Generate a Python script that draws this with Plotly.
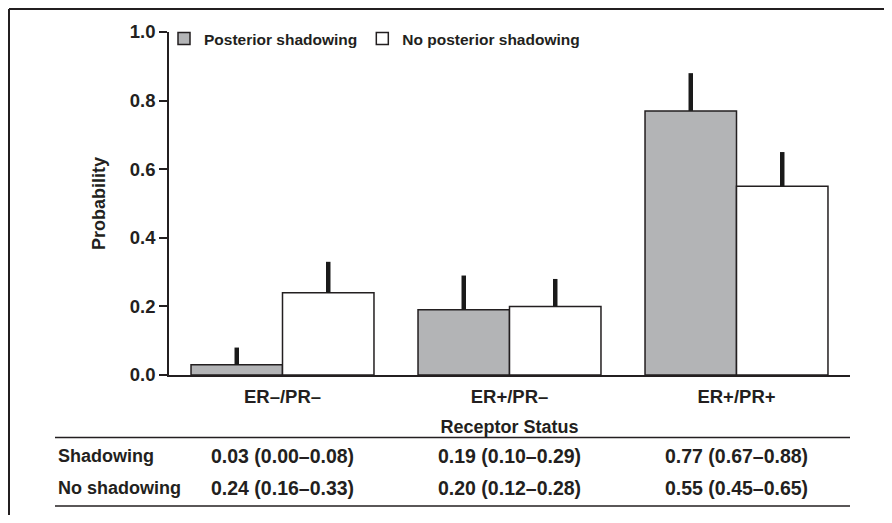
import plotly.graph_objects as go

# ---- data ----
categories = ["ER–/PR–", "ER+/PR–", "ER+/PR+"]
series_names = ["Posterior shadowing", "No posterior shadowing"]
shadow_p = [0.03, 0.19, 0.77]
shadow_lo = [0.00, 0.10, 0.67]
shadow_hi = [0.08, 0.29, 0.88]
noshadow_p = [0.24, 0.20, 0.55]
noshadow_lo = [0.16, 0.12, 0.45]
noshadow_hi = [0.33, 0.28, 0.65]
y_tickvals = [0.0, 0.2, 0.4, 0.6, 0.8, 1.0]
y_ticktext = ["0.0", "0.2", "0.4", "0.6", "0.8", "1.0"]
row_labels = ["Shadowing", "No shadowing"]

# ---- style / geometry (page pixels; the html body adds an 8px margin) ----
OFF = 8
W, H = 876, 507
PL, PR_, PT, PB = 169, 850, 32, 375  # plot area in page pixels
ML, MT = PL - OFF, PT - OFF
MR = W - (PR_ - OFF)
MB = H - (PB - OFF)
PW = PR_ - PL
PH = PB - PT
INK = "#231f20"
GRAY = "#b3b4b6"
FONT = "Liberation Sans, Arial, Helvetica, sans-serif"


def px2x(px):
    return (px - PL) / PW


def py2y(py):
    return (PB - py) / PH


def bold(size):
    return dict(size=size, family=FONT, color=INK, weight="bold")


fig = go.Figure()

for name, vals, hi, fill in [
    (series_names[0], shadow_p, shadow_hi, GRAY),
    (series_names[1], noshadow_p, noshadow_hi, "#ffffff"),
]:
    fig.add_trace(go.Bar(
        x=categories, y=vals, name=name,
        marker=dict(color=fill, line=dict(color=INK, width=1.5)),
        error_y=dict(type="data", symmetric=False,
                     array=[h - v for h, v in zip(hi, vals)],
                     arrayminus=[0] * len(vals),
                     color="#1a1a1a", thickness=4.5, width=0),
    ))

annotations = []
rows = [(shadow_p, shadow_lo, shadow_hi), (noshadow_p, noshadow_lo, noshadow_hi)]
row_py = [456, 488]
for (vals, lo, hi), lab, py in zip(rows, row_labels, row_py):
    annotations.append(dict(text=lab, xref="paper", yref="paper", x=px2x(56), y=py2y(py),
                            xanchor="left", yanchor="middle", showarrow=False, font=bold(18)))
    for i, c in enumerate(categories):
        annotations.append(dict(text=f"{vals[i]:.2f} ({lo[i]:.2f}–{hi[i]:.2f})",
                                xref="x", yref="paper", x=c, y=py2y(py),
                                xanchor="center", yanchor="middle", showarrow=False,
                                font=bold(19.5)))

shapes = [
    # outer frame (top + left)
    dict(type="line", xref="paper", yref="paper", x0=px2x(OFF + 1), x1=px2x(OFF + W + 2),
         y0=py2y(OFF + 1), y1=py2y(OFF + 1), line=dict(color=INK, width=2)),
    dict(type="line", xref="paper", yref="paper", x0=px2x(OFF + 1), x1=px2x(OFF + 1),
         y0=py2y(OFF + 1), y1=py2y(OFF + H + 2), line=dict(color=INK, width=2)),
    # table rules
    dict(type="line", xref="paper", yref="paper", x0=px2x(55), x1=px2x(850),
         y0=py2y(437.5), y1=py2y(437.5), line=dict(color=INK, width=1.5)),
    dict(type="line", xref="paper", yref="paper", x0=px2x(55), x1=px2x(850),
         y0=py2y(506), y1=py2y(506), line=dict(color=INK, width=1.5)),
]

fig.update_layout(
    width=W, height=H, autosize=False,
    margin=dict(l=ML, r=MR, t=MT, b=MB, pad=0),
    paper_bgcolor="white", plot_bgcolor="white",
    barmode="group", bargap=0.194, bargroupgap=0,
    font=bold(18),
    showlegend=True,
    legend=dict(orientation="h", x=px2x(164), xanchor="left", y=py2y(39), yanchor="middle",
                font=bold(15.5), bgcolor="rgba(0,0,0,0)", borderwidth=0,
                traceorder="normal"),
    xaxis=dict(showline=True, linecolor=INK, linewidth=1.5, ticks="", showgrid=False,
               zeroline=False, tickfont=bold(18.5), ticklabelstandoff=4,
               title=dict(text="Receptor Status", standoff=14, font=bold(18))),
    yaxis=dict(range=[0, 1], showline=True, linecolor=INK, linewidth=1.5,
               ticks="outside", ticklen=8, tickwidth=1.5, tickcolor=INK,
               tickvals=y_tickvals, ticktext=y_ticktext, showgrid=False, zeroline=False,
               tickfont=bold(18.5),
               title=dict(text="Probability", standoff=20, font=bold(18))),
    shapes=shapes, annotations=annotations,
)

fig.write_html("out.html")
